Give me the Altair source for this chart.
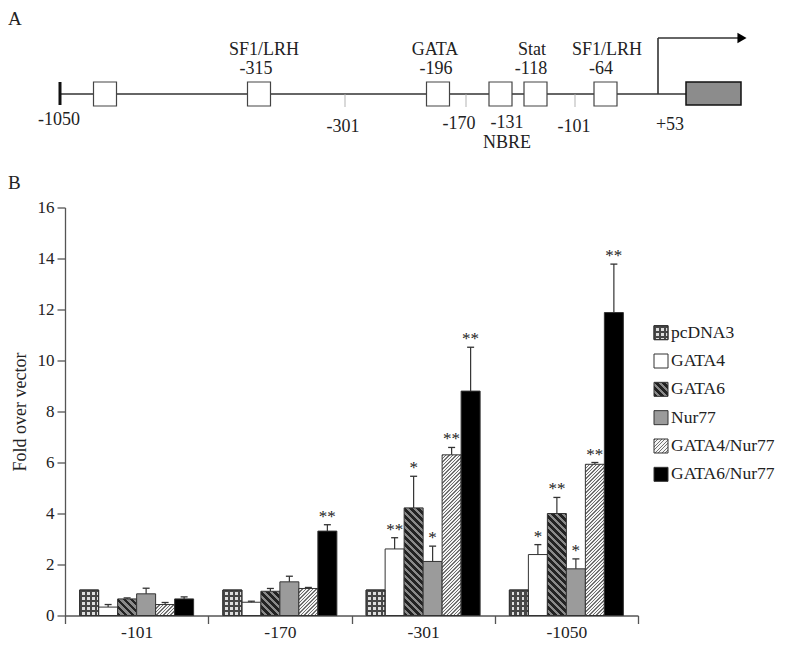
import altair as alt

SERIF = "Liberation Serif"

# ---------------- data (panel B) ----------------
promoters = ["-101", "-170", "-301", "-1050"]
series = ["pcDNA3", "GATA4", "GATA6", "Nur77", "GATA4/Nur77", "GATA6/Nur77"]

pcdna3_mean = [1.00, 1.00, 1.00, 1.00]
gata4_mean = [0.33, 0.52, 2.61, 2.39]
gata6_mean = [0.65, 0.95, 4.22, 4.00]
nur77_mean = [0.85, 1.32, 2.12, 1.83]
gata4_nur77_mean = [0.43, 1.06, 6.30, 5.93]
gata6_nur77_mean = [0.65, 3.31, 8.80, 11.88]

pcdna3_err = [0.0, 0.0, 0.0, 0.0]
gata4_err = [0.10, 0.04, 0.44, 0.39]
gata6_err = [0.04, 0.11, 1.24, 0.63]
nur77_err = [0.22, 0.22, 0.60, 0.39]
gata4_nur77_err = [0.08, 0.04, 0.29, 0.07]
gata6_nur77_err = [0.08, 0.25, 1.72, 1.90]

pcdna3_sig = ["", "", "", ""]
gata4_sig = ["", "", "**", "*"]
gata6_sig = ["", "", "*", "**"]
nur77_sig = ["", "", "*", "*"]
gata4_nur77_sig = ["", "", "**", "**"]
gata6_nur77_sig = ["", "**", "**", "**"]

y_ticks = [0, 2, 4, 6, 8, 10, 12, 14, 16]

# ---------------- schematic (panel A), in schematic units ----------------
site_box_x = [105, 259, 438, 500.5, 535.5, 605.5]
site_names = ["SF1/LRH", "GATA", "Stat", "SF1/LRH"]
site_names_x = [264, 435, 532, 607]
site_numbers = ["-315", "-196", "-118", "-64"]
site_numbers_x = [256, 436, 531, 601]
mark_ticks_x = [345, 466, 575]
lower_labels = ["-1050", "-301", "-170", "-131", "NBRE", "-101", "+53"]
lower_labels_x = [59, 343, 459, 507, 507, 574, 670]
lower_labels_y = [120, 127, 124, 123, 143, 127, 125]

# ---------------- layout constants ----------------
PLOT_W, PLOT_H = 573, 408
Y_MAX = 16
PX = PLOT_H / Y_MAX
BAR_W = 19.0
LEG_SQ = 14


def stripe_stops(length, period, frac, ca, cb):
    stops = []
    s = 0.0
    while s < length - 1e-9:
        a = s / length
        b = min((s + period * frac) / length, 1.0)
        c = min((s + period) / length, 1.0)
        stops += [
            {"offset": round(a, 5), "color": ca},
            {"offset": round(b, 5), "color": ca},
            {"offset": round(b, 5), "color": cb},
            {"offset": round(c, 5), "color": cb},
        ]
        s += period
    return stops


def diag_grad(w, h, period, frac, ca, cb, slash):
    h = max(h, 0.5)
    L = w + h
    k = L / (w * w + h * h)
    if slash:
        x1, y1, x2, y2 = 0, 0, k * w, k * h
    else:
        x1, y1, x2, y2 = 0, 1, k * w, 1 - k * h
    return {"gradient": "linear", "x1": x1, "y1": y1, "x2": x2, "y2": y2,
            "stops": stripe_stops(L, period, frac, ca, cb)}


def band_grad(w, h, period, frac, ca, cb, rows):
    if rows:
        return {"gradient": "linear", "x1": 0, "y1": 0, "x2": 0, "y2": 1,
                "stops": stripe_stops(max(h, 0.5), period, frac, ca, cb)}
    return {"gradient": "linear", "x1": 0, "y1": 0, "x2": 1, "y2": 0,
            "stops": stripe_stops(w, period, frac, ca, cb)}


def pattern(name, w, h):
    if name == "pcDNA3":
        return (band_grad(w, h, 5, 0.45, "#474747", "#dedede", True),
                band_grad(w, h, 5, 0.45, "#474747", "rgba(0,0,0,0)", False))
    if name == "GATA4":
        return "#ffffff", None
    if name == "GATA6":
        return diag_grad(w, h, 7, 0.55, "#232323", "#8a8a8a", False), None
    if name == "Nur77":
        return "#9b9b9b", None
    if name == "GATA4/Nur77":
        return diag_grad(w, h, 3.5, 0.4, "#707070", "#f4f4f4", True), None
    return "#000000", None


means = [pcdna3_mean, gata4_mean, gata6_mean, nur77_mean, gata4_nur77_mean, gata6_nur77_mean]
errs = [pcdna3_err, gata4_err, gata6_err, nur77_err, gata4_nur77_err, gata6_nur77_err]
sigs = [pcdna3_sig, gata4_sig, gata6_sig, nur77_sig, gata4_nur77_sig, gata6_nur77_sig]

rows = []
for s, m, e, g in zip(series, means, errs, sigs):
    for p, mv, ev, gv in zip(promoters, m, e, g):
        base, over = pattern(s, BAR_W, mv * PX)
        rows.append({"promoter": p, "series": s, "mean": mv, "err": ev,
                     "top": mv + ev, "sig": gv, "fill": base, "over": over})

bar_data = alt.Data(values=rows)

x_enc = alt.X("promoter:N", sort=promoters,
              scale=alt.Scale(domain=promoters, paddingInner=0, paddingOuter=0),
              axis=alt.Axis(title=None, tickBand="extent", labelAngle=0, tickSize=8,
                            labelPadding=0, labelFontSize=17.5, labelFont=SERIF,
                            labelColor="#222", domainColor="#555", tickColor="#555",
                            domainWidth=1.3, tickWidth=1.3, labelBaseline="top"))
xo_enc = alt.XOffset("series:N", sort=series,
                     scale=alt.Scale(domain=series, paddingInner=0, paddingOuter=0.77))
y_axis = alt.Axis(values=y_ticks, title="Fold over vector", tickSize=8, labelPadding=3,
                  labelFontSize=17, labelFont=SERIF, labelColor="#222",
                  titleFont=SERIF, titleFontSize=18, titleFontWeight="normal",
                  titleColor="#222", titlePadding=8, domainColor="#555",
                  tickColor="#555", domainWidth=1.3, tickWidth=1.3, grid=False)
y_scale = alt.Scale(domain=[0, Y_MAX], nice=False)

bars_base = alt.Chart(bar_data).mark_bar(stroke="#333", strokeWidth=1).encode(
    x=x_enc, xOffset=xo_enc,
    y=alt.Y("mean:Q", stack=None, scale=y_scale, axis=y_axis),
    fill=alt.Fill("fill:N", scale=None, legend=None),
)
bars_over = alt.Chart(bar_data).transform_filter("datum.series == 'pcDNA3'").mark_bar(
    stroke="#333", strokeWidth=1).encode(
    x=x_enc, xOffset=xo_enc,
    y=alt.Y("mean:Q", stack=None, scale=y_scale, axis=y_axis),
    fill=alt.Fill("over:N", scale=None, legend=None),
)
err_rule = alt.Chart(bar_data).transform_filter("datum.err > 0").mark_rule(
    color="#333", strokeWidth=1.2).encode(
    x=x_enc, xOffset=xo_enc,
    y=alt.Y("mean:Q", scale=y_scale, axis=y_axis), y2="top:Q",
)
err_cap = alt.Chart(bar_data).transform_filter("datum.err > 0").mark_tick(
    color="#333", thickness=1.3, size=7, opacity=1).encode(
    x=x_enc, xOffset=xo_enc,
    y=alt.Y("top:Q", scale=y_scale, axis=y_axis),
)
stars = alt.Chart(bar_data).transform_filter("datum.sig != ''").mark_text(
    font=SERIF, fontSize=17, baseline="alphabetic", dy=-3).encode(
    x=x_enc, xOffset=xo_enc,
    y=alt.Y("top:Q", scale=y_scale, axis=y_axis),
    text="sig:N",
    fill=alt.value("#222222"),
)
bars = alt.layer(bars_base, bars_over, err_rule, err_cap, stars).properties(
    width=PLOT_W, height=PLOT_H)

# ---------------- legend panel ----------------
leg_rows = []
for s in series:
    base, over = pattern(s, LEG_SQ, LEG_SQ)
    leg_rows.append({"series": s, "fill": base, "over": over})
leg_data = alt.Data(values=leg_rows)
leg_y = alt.Y("series:N", sort=series,
              scale=alt.Scale(domain=series, range=[111, 281]), axis=None)
leg_sq = alt.Chart(leg_data).mark_square(size=LEG_SQ * LEG_SQ, stroke="#333",
                                         strokeWidth=1, opacity=1).encode(
    x=alt.value(16), y=leg_y, fill=alt.Fill("fill:N", scale=None, legend=None))
leg_over = alt.Chart(leg_data).transform_filter("datum.series == 'pcDNA3'").mark_square(
    size=LEG_SQ * LEG_SQ, stroke="#333", strokeWidth=1, opacity=1).encode(
    x=alt.value(16), y=leg_y, fill=alt.Fill("over:N", scale=None, legend=None))
leg_text = alt.Chart(leg_data).mark_text(font=SERIF, fontSize=17.5,
                                         align="left", baseline="middle").encode(
    x=alt.value(26), y=leg_y, text="series:N", fill=alt.value("#222"))
legend = alt.layer(leg_sq, leg_over, leg_text).properties(width=125, height=PLOT_H)

# ---------------- schematic panel ----------------
D_H = 186
D_X0, D_X1 = 65, 780
dx = alt.Scale(domain=[D_X0, D_X1], nice=False, zero=False)
dy = alt.Scale(domain=[8, 8 + D_H], nice=False, zero=False, reverse=True)


def DX(f):
    return alt.X(f, scale=dx, axis=None)


def DY(f):
    return alt.Y(f, scale=dy, axis=None)


line_rows = [
    {"x": 60, "x2": 686, "y": 94, "y2": 94},
    {"x": 658, "x2": 658, "y": 94, "y2": 38},
    {"x": 658, "x2": 738, "y": 38, "y2": 38},
]
tick_rows = [{"x": t, "x2": t, "y": 94, "y2": 107} for t in mark_ticks_x]
start_rows = [{"x": 60, "x2": 60, "y": 82, "y2": 105}]
box_rows = [{"x": c - 11.5, "x2": c + 11.5, "y": 82, "y2": 106} for c in site_box_x]
gene_rows = [{"x": 686, "x2": 741, "y": 82, "y2": 105}]
arrow_rows = [{"x": 742, "y": 38}]
text_rows = (
    [{"label": t, "x": x, "y": 50} for t, x in zip(site_names, site_names_x)]
    + [{"label": t, "x": x, "y": 69} for t, x in zip(site_numbers, site_numbers_x)]
    + [{"label": t, "x": x, "y": y} for t, x, y in zip(lower_labels, lower_labels_x, lower_labels_y)]
)
panel_rows = [{"label": "A", "x": 8, "y": 10}, {"label": "B", "x": 8, "y": 173.5}]

d_lines = alt.Chart(alt.Data(values=line_rows)).mark_rule(color="#333", strokeWidth=1.6).encode(
    x=DX("x:Q"), x2="x2:Q", y=DY("y:Q"), y2="y2:Q")
d_ticks = alt.Chart(alt.Data(values=tick_rows)).mark_rule(color="#aaa", strokeWidth=0.9).encode(
    x=DX("x:Q"), x2="x2:Q", y=DY("y:Q"), y2="y2:Q")
d_start = alt.Chart(alt.Data(values=start_rows)).mark_rule(color="#111", strokeWidth=3).encode(
    x=DX("x:Q"), x2="x2:Q", y=DY("y:Q"), y2="y2:Q")
d_boxes = alt.Chart(alt.Data(values=box_rows)).mark_rect(fill="#ffffff", stroke="#444",
                                                        strokeWidth=1.2).encode(
    x=DX("x:Q"), x2="x2:Q", y=DY("y:Q"), y2="y2:Q")
d_gene = alt.Chart(alt.Data(values=gene_rows)).mark_rect(fill="#8c8c8c", stroke="#111",
                                                        strokeWidth=1.5).encode(
    x=DX("x:Q"), x2="x2:Q", y=DY("y:Q"), y2="y2:Q")
d_arrow = alt.Chart(alt.Data(values=arrow_rows)).mark_point(
    shape="triangle-right", filled=True, size=110, color="#000", opacity=1).encode(
    x=DX("x:Q"), y=DY("y:Q"))
d_text = alt.Chart(alt.Data(values=text_rows)).mark_text(
    font=SERIF, fontSize=18, align="center", baseline="middle").encode(
    x=DX("x:Q"), y=DY("y:Q"), text="label:N", fill=alt.value("#222"))
d_panel = alt.Chart(alt.Data(values=panel_rows)).mark_text(
    font=SERIF, fontSize=19, align="left", baseline="top").encode(
    x=DX("x:Q"), y=DY("y:Q"), text="label:N", fill=alt.value("#222"))

diagram = alt.layer(d_lines, d_ticks, d_start, d_gene, d_boxes, d_arrow, d_text,
                    d_panel).properties(width=D_X1 - D_X0, height=D_H)

chart = alt.vconcat(
    diagram,
    alt.hconcat(bars, legend, spacing=6),
    spacing=4.5,
).properties(
    padding={"left": 0, "top": 0, "right": 0, "bottom": 0}
).configure_view(stroke=None)

chart.save("out.html", embed_options={"renderer": "svg", "actions": False})
